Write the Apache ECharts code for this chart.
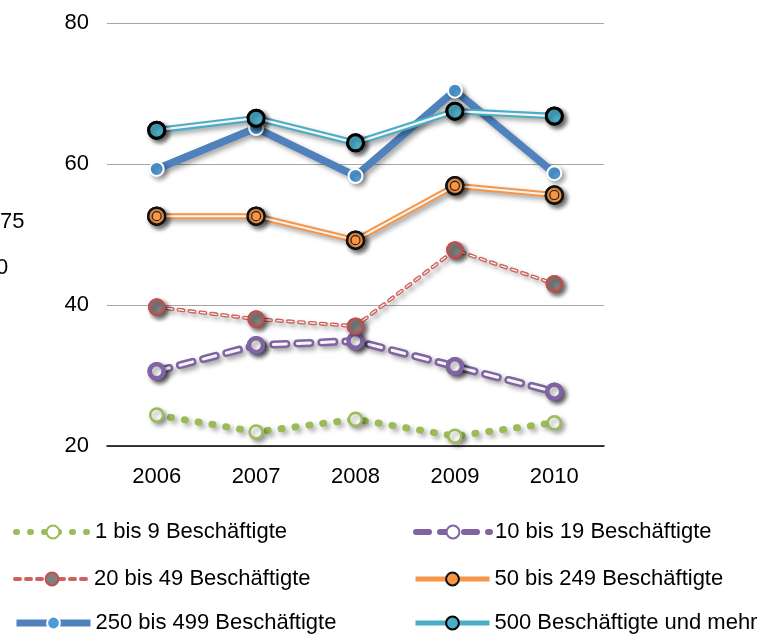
<!DOCTYPE html>
<html>
<head>
<meta charset="utf-8">
<script src="https://cdn.jsdelivr.net/npm/echarts@6/dist/echarts.min.js"></script>
<style>
  html, body { margin: 0; padding: 0; background: #fff; }
  #chart { width: 778px; height: 637px; }
</style>
</head>
<body>
<div id="chart"></div>
<script>
var years = ['2006', '2007', '2008', '2009', '2010'];
var yTicks = [20, 40, 60, 80];

var names = [
  '1 bis 9 Beschäftigte',
  '10 bis 19 Beschäftigte',
  '20 bis 49 Beschäftigte',
  '50 bis 249 Beschäftigte',
  '250 bis 499 Beschäftigte',
  '500 Beschäftigte und mehr'
];
var v1bis9 = [24.4, 22.0, 23.8, 21.4, 23.3];
var v10bis19 = [30.6, 34.3, 34.9, 31.3, 27.7];
var v20bis49 = [39.7, 38.0, 37.0, 47.8, 43.0];
var v50bis249 = [52.6, 52.6, 49.2, 56.9, 55.6];
var v250bis499 = [59.3, 65.1, 58.3, 70.4, 58.7];
var v500mehr = [64.8, 66.5, 63.0, 67.5, 66.8];

var FONT = 'Liberation Sans, Arial, sans-serif';
var shadow = { shadowColor: 'rgba(0,0,0,0.35)', shadowBlur: 5, shadowOffsetX: 3, shadowOffsetY: 3 };
function sh(o) { return Object.assign({}, shadow, o); }

// innere helle Linie (fuer die "doppelten" Linien)
function inner(data, w, type) {
  return {
    type: 'line', data: data, symbol: 'none', silent: true, z: 3,
    lineStyle: { color: '#f4f4f4', width: w, type: type || 'solid', cap: 'round' }
  };
}
// nur die Marker, ueber der inneren Linie
function marks(data, size, item, noShadow) {
  return {
    type: 'line', data: data, symbol: 'circle', symbolSize: size, silent: true, z: 4,
    lineStyle: { opacity: 0, width: 0 }, itemStyle: noShadow ? item : sh(item)
  };
}

var itemGreen = { color: '#fff', borderColor: '#9BBB59', borderWidth: 2.5 };
var itemPurple = { color: '#fff', borderColor: '#8064A2', borderWidth: 4.5 };
var itemRed = { color: '#7F7F7F', borderColor: '#C0504D', borderWidth: 2.5 };
var itemOrange = { color: '#F79646', borderColor: '#111', borderWidth: 2.5 };
var itemOrangeIn = { color: '#F79646', borderColor: '#222', borderWidth: 1.2 };
var itemBlue = { color: '#4F9BD6', borderColor: '#fff', borderWidth: 2 };
var itemTeal = { color: '#4BACC6', borderColor: '#000', borderWidth: 3 };

// eine Legende je Eintrag: 2 Spalten, 3 Zeilen
var legendPos = [[13, 521], [413, 521], [13, 568], [413, 568], [13, 612], [413, 612]];
var legendLineW = [6, 6, 4, 5, 7, 5];
var legends = names.map(function (n, i) {
  return {
    left: legendPos[i][0], top: legendPos[i][1], padding: 0,
    itemWidth: 74, itemHeight: 16, itemGap: 0,
    textStyle: { color: '#000', fontSize: 22, fontFamily: FONT },
    lineStyle: { width: legendLineW[i], shadowBlur: 0, shadowOffsetX: 0, shadowOffsetY: 0, shadowColor: 'rgba(0,0,0,0)' },
    itemStyle: { shadowBlur: 0, shadowOffsetX: 0, shadowOffsetY: 0, shadowColor: 'rgba(0,0,0,0)' },
    data: [n]
  };
});

var chart = echarts.init(document.getElementById('chart'));
chart.setOption({
  animation: false,
  textStyle: { fontFamily: FONT },
  grid: { left: 107, right: 174, top: 23, bottom: 191 },
  xAxis: {
    type: 'category', data: years, boundaryGap: true,
    axisLine: { lineStyle: { color: '#000', width: 1.5 } },
    axisTick: { length: 8, lineStyle: { color: '#000', width: 1.5 } },
    axisLabel: { color: '#000', fontSize: 22, margin: 20 }
  },
  yAxis: {
    type: 'value', min: yTicks[0], max: yTicks[yTicks.length - 1], interval: 20,
    axisLine: { show: false }, axisTick: { show: false },
    axisLabel: { color: '#000', fontSize: 22, margin: 18 },
    splitLine: { lineStyle: { color: '#A6A6A6', width: 1.2 } }
  },
  legend: legends,
  graphic: [
    { type: 'text', left: 0, top: 211, style: { text: '75', fontSize: 22, fill: '#000', fontFamily: FONT } },
    { type: 'text', left: -4, top: 257, style: { text: '0', fontSize: 22, fill: '#000', fontFamily: FONT } }
  ],
  series: [
    { name: names[0], type: 'line', data: v1bis9, symbol: 'circle', symbolSize: 13, z: 2,
      lineStyle: sh({ color: '#9BBB59', width: 7, type: [1, 13], cap: 'round' }), itemStyle: sh(itemGreen) },
    { name: names[1], type: 'line', data: v10bis19, symbol: 'circle', symbolSize: 14, z: 2,
      lineStyle: sh({ color: '#8064A2', width: 8, type: [13, 11], cap: 'round' }), itemStyle: sh(itemPurple) },
    inner(v10bis19, 3, [13, 11]),
    marks(v10bis19, 14, itemPurple),
    { name: names[2], type: 'line', data: v20bis49, symbol: 'circle', symbolSize: 15, z: 2,
      lineStyle: sh({ color: '#D0605C', width: 4, type: [5, 6], cap: 'round' }), itemStyle: sh(itemRed) },
    inner(v20bis49, 1.3, [5, 6]),
    marks(v20bis49, 15, itemRed),
    { name: names[3], type: 'line', data: v50bis249, symbol: 'circle', symbolSize: 17, z: 2,
      lineStyle: sh({ color: '#F79646', width: 6 }), itemStyle: sh(itemOrange) },
    inner(v50bis249, 2),
    marks(v50bis249, 17, itemOrange),
    marks(v50bis249, 9, itemOrangeIn, true),
    { name: names[4], type: 'line', data: v250bis499, symbol: 'circle', symbolSize: 14, z: 2,
      lineStyle: sh({ color: '#4F81BD', width: 7.5 }), itemStyle: sh(itemBlue) },
    { name: names[5], type: 'line', data: v500mehr, symbol: 'circle', symbolSize: 16, z: 2,
      lineStyle: sh({ color: '#4BACC6', width: 6.5 }), itemStyle: sh(itemTeal) },
    inner(v500mehr, 2.2),
    marks(v500mehr, 16, itemTeal)
  ]
});
</script>
</body>
</html>
